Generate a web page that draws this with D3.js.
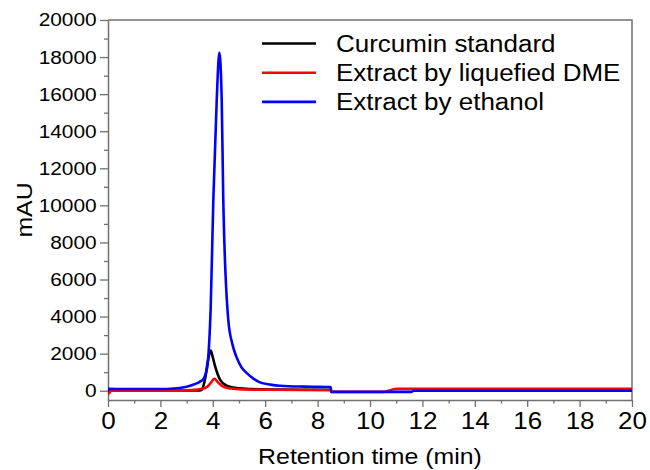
<!DOCTYPE html>
<html>
<head>
<meta charset="utf-8">
<script src="https://cdn.jsdelivr.net/npm/d3@7"></script>
<style>
  body { margin: 0; background: #fff; }
  text { font-family: "Liberation Sans", Arial, sans-serif; fill: #000; }
</style>
</head>
<body>
<div id="chart"></div>
<script>
// Series: retention time (min) and absorbance (mAU)
const seriesNames = ['Curcumin standard', 'Extract by liquefied DME', 'Extract by ethanol'];
const seriesColors = ['#000000', '#ff0000', '#0000ff'];

const standardTime = [0, 3.5, 3.58, 3.7, 3.8, 3.92, 4.0, 4.09, 4.28, 4.53, 5.0, 5.5, 6.5, 8.5];
const standardVal = [20, 20, 60, 600, 1500, 2170, 1800, 1310, 590, 270, 130, 90, 60, 50];

const dmeTime = [0, 0.05, 0.1, 2, 3.0, 3.4, 3.7, 3.83, 3.95, 4.06, 4.18, 4.34, 4.6, 5, 6, 8.5, 8.52, 10.5, 11, 20];
const dmeVal = [-130, -130, 0, 0, 20, 70, 150, 270, 480, 650, 480, 270, 130, 80, 50, 30, -60, -60, 100, 100];

const ethanolTime = [0, 1, 2, 2.5, 3.0, 3.3, 3.5, 3.65, 3.78, 3.85, 3.92, 4.02, 4.15, 4.25, 4.34, 4.40, 4.59, 4.75, 4.91, 5.1, 5.3, 5.55, 5.8, 6.2, 6.57, 7.5, 8.5, 8.52, 10, 11.6, 11.65, 15, 20];
const ethanolVal = [100, 90, 90, 120, 220, 350, 480, 650, 1200, 2300, 4500, 10300, 15700, 18240, 15700, 10300, 3830, 2500, 1800, 1250, 950, 650, 450, 330, 270, 220, 200, -60, -60, -60, 0, 0, 0];

const xTicks = [0, 2, 4, 6, 8, 10, 12, 14, 16, 18, 20];
const yTicks = [0, 2000, 4000, 6000, 8000, 10000, 12000, 14000, 16000, 18000, 20000];

const Chart = {
  init() {
    this.stretch = 1.13; // text in the figure is a bit wide
    this.axisColor = '#707070';
    this.margin = { left: 108, right: 18, top: 20, bottom: 70 };
    this.width = 650 - this.margin.left - this.margin.right;
    this.height = 470 - this.margin.top - this.margin.bottom;

    this.data = [
      standardTime.map((t, i) => ({ t, v: standardVal[i] })),
      dmeTime.map((t, i) => ({ t, v: dmeVal[i] })),
      ethanolTime.map((t, i) => ({ t, v: ethanolVal[i] })),
    ];

    this.create();
    this.scales();
    this.axis();
    this.lines();
    this.legend();
  },

  create() {
    this.svg = d3.select('#chart').append('svg')
      .attr('width', 650)
      .attr('height', 470);

    this.g = this.svg.append('g')
      .attr('transform', `translate(${this.margin.left} ${this.margin.top})`);
  },

  scales() {
    this.x = d3.scaleLinear().domain([0, 20]).range([0, this.width]);
    this.y = d3.scaleLinear().domain([-500, 20000]).range([this.height, 0]);
  },

  axis() {
    const s = this.stretch;

    // minor ticks first
    const minorX = d3.range(1, 20, 2);
    const minorY = d3.range(1000, 20000, 2000);

    this.g.append('g')
      .attr('transform', `translate(0, ${this.height})`)
      .call(d3.axisBottom(this.x).tickValues(minorX).tickSize(3.5).tickFormat(''))
      .call((a) => a.select('.domain').remove())
      .selectAll('line').attr('stroke', this.axisColor).attr('stroke-width', 1.3);

    this.g.append('g')
      .call(d3.axisLeft(this.y).tickValues(minorY).tickSize(4).tickFormat(''))
      .call((a) => a.select('.domain').remove())
      .selectAll('line').attr('stroke', this.axisColor).attr('stroke-width', 1.3);

    // frame top + right
    this.g.append('path')
      .attr('d', `M0,0H${this.width}V${this.height}`)
      .attr('fill', 'none')
      .attr('stroke', this.axisColor)
      .attr('stroke-width', 1.5);

    const ax = this.g.append('g')
      .attr('transform', `translate(0, ${this.height})`)
      .call(d3.axisBottom(this.x).tickValues(xTicks).tickSize(7).tickPadding(6).tickSizeOuter(0));
    ax.select('.domain').attr('stroke', this.axisColor).attr('stroke-width', 1.5);
    ax.selectAll('line').attr('stroke', this.axisColor).attr('stroke-width', 1.3);
    ax.selectAll('text')
      .attr('font-size', 23)
      .attr('font-family', '"Liberation Sans", Arial, sans-serif')
      .attr('fill', '#000')
      .attr('transform', `scale(${s},1)`);

    const ay = this.g.append('g')
      .call(d3.axisLeft(this.y).tickValues(yTicks).tickSize(8).tickPadding(2).tickSizeOuter(0).tickFormat(d3.format('d')));
    ay.select('.domain').attr('stroke', this.axisColor).attr('stroke-width', 1.5);
    ay.selectAll('line').attr('stroke', this.axisColor).attr('stroke-width', 1.3);
    ay.selectAll('text')
      .attr('font-size', 18.5)
      .attr('font-family', '"Liberation Sans", Arial, sans-serif')
      .attr('fill', '#000')
      .attr('transform', `scale(${s},1)`);

    // axis titles
    this.g.append('text')
      .attr('transform', `translate(${this.width / 2}, ${this.height + 64}) scale(${s},1)`)
      .attr('text-anchor', 'middle')
      .attr('font-size', 22)
      .text('Retention time (min)');

    this.g.append('text')
      .attr('transform', `translate(-76, ${this.height / 2}) rotate(-90) scale(${s},1)`)
      .attr('text-anchor', 'middle')
      .attr('font-size', 22)
      .text('mAU');
  },

  lines() {
    const line = d3.line()
      .x((d) => this.x(d.t))
      .y((d) => this.y(d.v))
      .curve(d3.curveMonotoneX);

    this.g.selectAll('.series')
      .data(this.data)
      .join('path')
      .attr('class', 'series')
      .attr('fill', 'none')
      .attr('stroke', (d, i) => seriesColors[i])
      .attr('stroke-width', 2.6)
      .attr('stroke-linejoin', 'round')
      .attr('d', (d) => line(d));
  },

  legend() {
    const s = this.stretch;
    const lg = this.g.append('g')
      .attr('transform', 'translate(154, 23.5)');

    seriesNames.forEach((name, i) => {
      const row = lg.append('g').attr('transform', `translate(0, ${i * 29.2})`);
      row.append('line')
        .attr('x1', 0).attr('x2', 54)
        .attr('stroke', seriesColors[i])
        .attr('stroke-width', 2.6);
      row.append('text')
        .attr('transform', `translate(74, 8.5) scale(${s},1)`)
        .attr('font-size', 23)
        .text(name);
    });
  },
};

Chart.init();
</script>
</body>
</html>
